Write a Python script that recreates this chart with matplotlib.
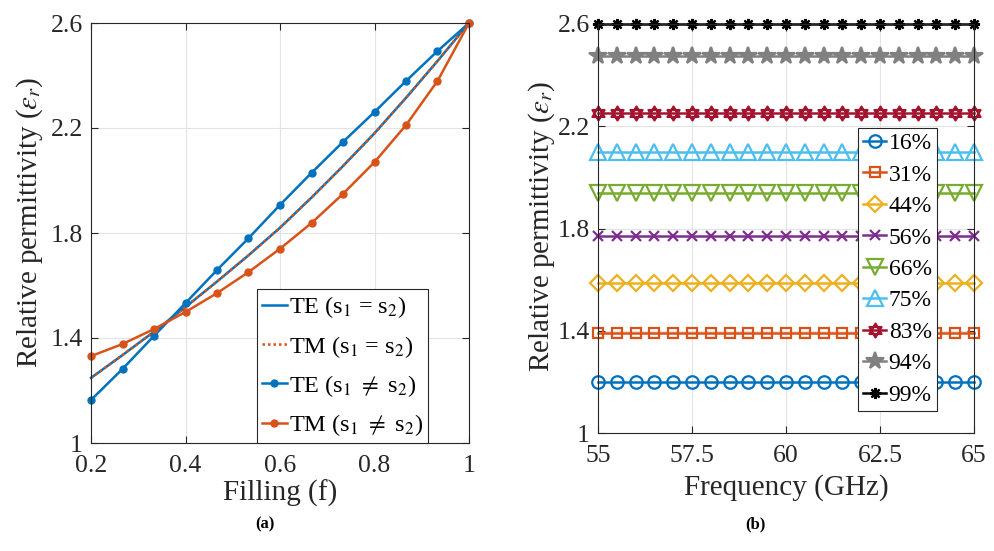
import numpy as np
import matplotlib
matplotlib.use('Agg')
import matplotlib.pyplot as plt
from matplotlib.path import Path

# ---- data ----
filling = [0.2, 0.2667, 0.3333, 0.4, 0.4667, 0.5333, 0.6, 0.6667, 0.7333, 0.8, 0.8667, 0.9333, 1.0]
te_equal = [1.248, 1.335, 1.424, 1.518, 1.615, 1.715, 1.820, 1.935, 2.055, 2.180, 2.315, 2.455, 2.6]
tm_equal = [1.248, 1.335, 1.424, 1.518, 1.615, 1.715, 1.820, 1.935, 2.055, 2.180, 2.315, 2.455, 2.6]
te_diff = [1.164, 1.282, 1.408, 1.533, 1.659, 1.780, 1.907, 2.029, 2.147, 2.261, 2.379, 2.493, 2.6]
tm_diff = [1.331, 1.377, 1.434, 1.499, 1.571, 1.651, 1.740, 1.838, 1.949, 2.070, 2.211, 2.379, 2.6]

freq = [55, 55.5, 56, 56.5, 57, 57.5, 58, 58.5, 59, 59.5, 60,
        60.5, 61, 61.5, 62, 62.5, 63, 63.5, 64, 64.5, 65]
fill_labels = ['16%', '31%', '44%', '56%', '66%', '75%', '83%', '94%', '99%']
fill_eps = [1.20, 1.39, 1.585, 1.77, 1.94, 2.10, 2.25, 2.475, 2.6]

# MATLAB default colours
c_blue = '#0072BD'
c_orange = '#D95319'
colors_b = ['#0072BD', '#D95319', '#EDB120', '#7E2F8E', '#77AC30',
            '#4DBEEE', '#A2142F', '#808080', '#000000']

# hexagram marker: two overlapping triangles
ang = np.deg2rad([90, 210, 330])
tri_up = np.column_stack([np.cos(ang), np.sin(ang)])
tri_dn = -tri_up
verts = list(tri_up) + [tri_up[0]] + list(tri_dn) + [tri_dn[0]]
codes = [Path.MOVETO, Path.LINETO, Path.LINETO, Path.CLOSEPOLY] * 2
hexagram = Path(verts, codes)

markers = ['o', 's', 'D', 'x', 'v', '^', hexagram, '*', (8, 2, 0)]
msizes = [9, 7.5, 8, 6.5, 11.5, 11.5, 10, 13, 8]

plt.rcParams['font.family'] = ['Liberation Serif', 'DejaVu Serif']
plt.rcParams['mathtext.fontset'] = 'stix'

txt = '#262626'

fig = plt.figure(figsize=(9.94, 5.51), dpi=100)
W, H = 994, 551
ax1 = fig.add_axes([91 / W, 1 - 443 / H, (469 - 91) / W, (443 - 23) / H])
ax2 = fig.add_axes([598 / W, 1 - 433 / H, (974 - 598) / W, (433 - 24) / H])


def style_axes(ax):
    ax.grid(True, color='#e3e3e3', linewidth=0.8)
    ax.set_axisbelow(True)
    for sp in ax.spines.values():
        sp.set_color('#262626')
        sp.set_linewidth(0.8)
    ax.tick_params(direction='in', top=True, right=True, labelsize=18.5,
                   colors=txt, length=5, width=0.8)
    ax.tick_params(axis='x', pad=9)
    ax.tick_params(axis='y', pad=6)


# ---- (a) ----
ax1.plot(filling, te_equal, color=c_blue, lw=1.8, label='TE (s$_1$ = s$_2$)', clip_on=False)
ax1.plot(filling, tm_equal, color=c_orange, lw=1.8, ls=(0, (1, 1.2)),
         label='TM (s$_1$ = s$_2$)', clip_on=False)
ax1.plot(filling, te_diff, color=c_blue, lw=1.8, marker='o', ms=5,
         label='TE (s$_1$ $\\neq$ s$_2$)', clip_on=False)
ax1.plot(filling, tm_diff, color=c_orange, lw=1.8, marker='o', ms=5,
         label='TM (s$_1$ $\\neq$ s$_2$)', clip_on=False)
ax1.set_xlim(0.2, 1.0)
ax1.set_ylim(1.0, 2.6)
ax1.set_xticks([0.2, 0.4, 0.6, 0.8, 1.0])
ax1.set_xticklabels(['0.2', '0.4', '0.6', '0.8', '1'])
ax1.set_yticks([1.0, 1.4, 1.8, 2.2, 2.6])
ax1.set_yticklabels(['1', '1.4', '1.8', '2.2', '2.6'])
ax1.set_xlabel('Filling (f)', fontsize=21, color=txt)
ax1.set_ylabel('Relative permittivity ($\\varepsilon_r$)', fontsize=21, color=txt)
ax1.xaxis.set_label_coords(0.5, (443 - 493) / 420)
ax1.xaxis.label.set_verticalalignment('center')
ax1.yaxis.set_label_coords((30 - 91) / 378, (443 - 222) / 420)
ax1.yaxis.label.set_verticalalignment('center')
style_axes(ax1)
leg1 = ax1.legend(loc='lower right', bbox_to_anchor=((428 - 91) / 378, 0.0),
                  borderaxespad=0, fontsize=17.5, handlelength=1.0, handletextpad=0.1,
                  labelspacing=0.55, borderpad=0.2, fancybox=False, framealpha=1)
leg1.get_frame().set_edgecolor('#262626')
leg1.get_frame().set_linewidth(0.8)

# ---- (b) ----
for lab, val, col, mk, ms in zip(fill_labels, fill_eps, colors_b, markers, msizes):
    ax2.plot(freq, [val] * len(freq), color=col, lw=1.8, marker=mk, ms=ms,
             mfc=col if mk == '*' else 'none', mew=1.6, label=lab, clip_on=False)
ax2.set_xlim(55, 65)
ax2.set_ylim(1.0, 2.6)
ax2.set_xticks([55, 57.5, 60, 62.5, 65])
ax2.set_xticklabels(['55', '57.5', '60', '62.5', '65'])
ax2.set_yticks([1.0, 1.4, 1.8, 2.2, 2.6])
ax2.set_yticklabels(['1', '1.4', '1.8', '2.2', '2.6'])
ax2.set_xlabel('Frequency (GHz)', fontsize=21, color=txt)
ax2.set_ylabel('Relative permittivity ($\\varepsilon_r$)', fontsize=21, color=txt)
ax2.xaxis.set_label_coords(0.5, (433 - 488) / 409)
ax2.xaxis.label.set_verticalalignment('center')
ax2.yaxis.set_label_coords((542 - 598) / 376, (433 - 226) / 409)
ax2.yaxis.label.set_verticalalignment('center')
style_axes(ax2)
leg2 = ax2.legend(loc='upper left', bbox_to_anchor=((858 - 598) / 376, (433 - 128) / 409),
                  borderaxespad=0, fontsize=17, handlelength=1.0, handletextpad=0.1,
                  labelspacing=0.42, borderpad=0.2, fancybox=False, framealpha=1)
leg2.get_frame().set_edgecolor('#262626')
leg2.get_frame().set_linewidth(0.8)

fig.text(265 / W, 1 - 524 / H, '(a)', ha='center', va='center', fontsize=12, fontweight='bold')
fig.text(755 / W, 1 - 524 / H, '(b)', ha='center', va='center', fontsize=12, fontweight='bold')

fig.savefig('out.png', dpi=100)
